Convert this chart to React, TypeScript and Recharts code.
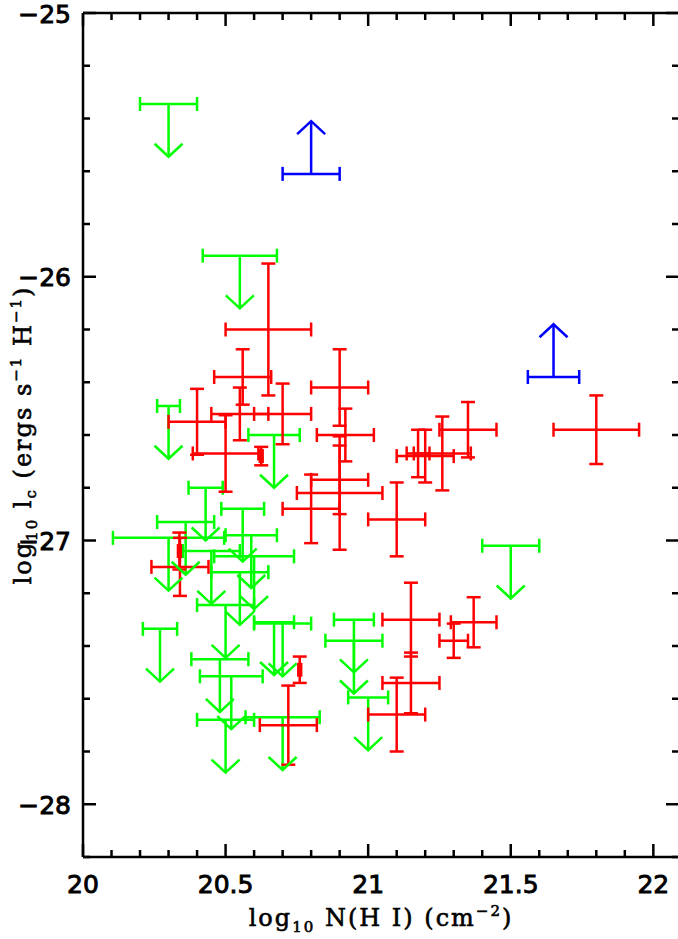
import React from 'react';
import { ScatterChart, Scatter, XAxis, YAxis, ErrorBar } from 'recharts';

// detections: log N(HI), log lc and their half-widths
const redX = [20.65, 20.56, 20.55, 20.70, 20.40, 20.50, 20.625, 20.90, 20.92, 20.90, 20.90, 20.80, 21.10, 21.80, 21.35, 21.26, 21.20, 21.175, 21.15, 21.15, 21.10, 21.37, 21.30, 20.34, 20.76, 20.72, 20.338];
const redY = [-26.20, -26.38, -26.52, -26.52, -26.55, -26.67, -26.68, -26.42, -26.60, -26.77, -26.82, -26.88, -26.92, -26.58, -26.58, -26.67, -26.68, -26.67, -27.30, -27.54, -27.66, -27.31, -27.38, -27.10, -27.49, -27.70, -27.04];
const redXErr = [0.15, 0.10, 0.10, 0.10, 0.10, 0.115, 0.005, 0.10, 0.10, 0.10, 0.15, 0.10, 0.10, 0.15, 0.10, 0.10, 0.10, 0.04, 0.10, 0.10, 0.10, 0.08, 0.05, 0.10, 0.005, 0.10, 0.005];
const redYErr = [0.25, 0.105, 0.10, 0.115, 0.125, 0.145, 0.035, 0.145, 0.10, 0.13, 0.215, 0.13, 0.14, 0.13, 0.105, 0.14, 0.10, 0.09, 0.14, 0.115, 0.14, 0.095, 0.065, 0.11, 0.05, 0.15, 0.07];

// upper limits on lc
const upX = [20.30, 20.55, 20.30, 20.67, 20.43, 20.56, 20.36, 20.30, 20.59, 20.45, 20.60, 20.55, 20.50, 20.67, 20.70, 20.27, 20.48, 20.52, 20.50, 20.70, 20.95, 20.95, 21.00, 21.50];
const upY = [-25.345, -25.92, -26.49, -26.60, -26.80, -26.88, -26.93, -26.99, -26.98, -27.04, -27.06, -27.12, -27.245, -27.31, -27.315, -27.335, -27.45, -27.515, -27.68, -27.67, -27.30, -27.38, -27.595, -27.02];
const upXErr = [0.10, 0.13, 0.04, 0.09, 0.06, 0.075, 0.10, 0.195, 0.09, 0.10, 0.14, 0.10, 0.10, 0.07, 0.10, 0.06, 0.10, 0.11, 0.10, 0.13, 0.07, 0.10, 0.07, 0.10];

// lower limits on lc
const lowX = [20.80, 21.65];
const lowY = [-25.61, -26.38];
const lowXErr = [0.10, 0.09];

// arrow length in dex
const ARROW = 0.2;

const xTicks = [20, 20.1, 20.2, 20.3, 20.4, 20.5, 20.6, 20.7, 20.8, 20.9, 21, 21.1, 21.2, 21.3, 21.4, 21.5, 21.6, 21.7, 21.8, 21.9, 22];
const xMajor = [20, 20.5, 21, 21.5, 22];
const yTicks = [-28.2, -28, -27.8, -27.6, -27.4, -27.2, -27, -26.8, -26.6, -26.4, -26.2, -26, -25.8, -25.6, -25.4, -25.2, -25];
const yMajor = [-28, -27, -26, -25];

const RED = '#ff0000';
const GREEN = '#00ff00';
const BLUE = '#0000ff';
const LW = 2.5;
const MAJOR_LEN = 13;
const MINOR_LEN = 7;

// thin outline on the glyphs gives the heavier plotter lettering
const tickFont = { fontFamily: '"DejaVu Sans", sans-serif', fontSize: 25, fill: '#000', stroke: '#000', strokeWidth: 0.9 };
const titleFont = { fontFamily: '"DejaVu Serif", serif', fontSize: 24, fill: '#000', stroke: '#000', strokeWidth: 0.6, letterSpacing: 2, whiteSpace: 'pre' as const };
const axisStyle = { stroke: '#000', strokeWidth: LW };

const isMajor = (v: number, majors: number[]) => majors.some(m => Math.abs(m - v) < 1e-6);
const fmt = (v: number) => (v < 0 ? '\u2212' + Math.abs(v) : String(v));

const detections = redX.map((x, i) => ({ x, y: redY[i], ex: redXErr[i], ey: redYErr[i] }));
const upper = upX.map((x, i) => ({ x, y: upY[i], ex: upXErr[i], stem: [ARROW, 0] }));
const upperTips = upX.map((x, i) => ({ x, y: upY[i] - ARROW }));
const lower = lowX.map((x, i) => ({ x, y: lowY[i], ex: lowXErr[i], stem: [0, ARROW] }));
const lowerTips = lowX.map((x, i) => ({ x, y: lowY[i] + ARROW }));

const BottomTick = (props: any) => {
  const { x, y, payload } = props;
  const major = isMajor(payload.value, xMajor);
  return (
    <g>
      <line x1={x} y1={y} x2={x} y2={y - (major ? MAJOR_LEN : MINOR_LEN)} stroke="#000" strokeWidth={LW} />
      {major && (
        <text x={x} y={y + 36} textAnchor="middle" style={tickFont}>{fmt(payload.value)}</text>
      )}
    </g>
  );
};

const TopTick = (props: any) => {
  const { x, y, payload } = props;
  const major = isMajor(payload.value, xMajor);
  return <line x1={x} y1={y} x2={x} y2={y + (major ? MAJOR_LEN : MINOR_LEN)} stroke="#000" strokeWidth={LW} />;
};

const LeftTick = (props: any) => {
  const { x, y, payload } = props;
  const major = isMajor(payload.value, yMajor);
  return (
    <g>
      <line x1={x} y1={y} x2={x + (major ? MAJOR_LEN : MINOR_LEN)} y2={y} stroke="#000" strokeWidth={LW} />
      {major && (
        <text x={x - 12} y={y + 9.5} textAnchor="end" style={tickFont}>{fmt(payload.value)}</text>
      )}
    </g>
  );
};

const RightTick = (props: any) => {
  const { x, y, payload } = props;
  const major = isMajor(payload.value, yMajor);
  return <line x1={x} y1={y} x2={x - (major ? MAJOR_LEN : MINOR_LEN)} y2={y} stroke="#000" strokeWidth={LW} />;
};

const XTitle = (props: any) => {
  const { x, y, width } = props.viewBox;
  return (
    <text x={x + width / 2} y={y + 69} textAnchor="middle" style={titleFont}>
      log<tspan fontSize={15} dy={6}>10</tspan>
      <tspan dy={-6}> N(H I) (cm</tspan>
      <tspan fontSize={15} dy={-10}>{'\u22122'}</tspan>
      <tspan dy={10}>)</tspan>
    </text>
  );
};

const YTitle = (props: any) => {
  const { y, height } = props.viewBox;
  const cx = 31;
  const cy = y + height / 2;
  return (
    <text x={cx} y={cy} transform={`rotate(-90 ${cx} ${cy})`} textAnchor="middle" style={titleFont}>
      log<tspan fontSize={15} dy={6}>10</tspan>
      <tspan dy={-6}> l</tspan>
      <tspan fontSize={15} dy={5}>c</tspan>
      <tspan dy={-5}> (ergs s</tspan>
      <tspan fontSize={15} dy={-10}>{'\u22121'}</tspan>
      <tspan dy={10}> H</tspan>
      <tspan fontSize={15} dy={-10}>{'\u22121'}</tspan>
      <tspan dy={10}>)</tspan>
    </text>
  );
};

const Nothing = () => <g />;

const DownHead = (props: any) => {
  const { cx, cy } = props;
  return <path d={`M${cx - 14},${cy - 13} L${cx},${cy} L${cx + 14},${cy - 13}`} fill="none" stroke={GREEN} strokeWidth={LW} />;
};

const UpHead = (props: any) => {
  const { cx, cy } = props;
  return <path d={`M${cx - 14},${cy + 13} L${cx},${cy} L${cx + 14},${cy + 13}`} fill="none" stroke={BLUE} strokeWidth={LW} />;
};

export default function App() {
  return (
    <div style={{ position: 'absolute', left: 0, top: 0, width: 678, height: 939, overflow: 'hidden', background: '#fff' }}>
      <ScatterChart width={680} height={939} margin={{ top: 12, right: 0, bottom: 22, left: 0 }}>
        <XAxis
          xAxisId="bottom"
          type="number"
          dataKey="x"
          domain={[20, 22.09]}
          allowDataOverflow
          ticks={xTicks}
          interval={0}
          height={60}
          tickSize={0}
          tickMargin={0}
          tickLine={false}
          tick={<BottomTick />}
          axisLine={axisStyle}
          label={{ content: XTitle }}
        />
        <XAxis
          xAxisId="top"
          orientation="top"
          type="number"
          dataKey="x"
          domain={[20, 22.09]}
          allowDataOverflow
          ticks={xTicks}
          interval={0}
          height={1}
          tickSize={0}
          tickMargin={0}
          tickLine={false}
          tick={<TopTick />}
          axisLine={axisStyle}
        />
        <YAxis
          yAxisId="left"
          type="number"
          dataKey="y"
          domain={[-28.2, -25]}
          allowDataOverflow
          ticks={yTicks}
          interval={0}
          width={83}
          tickSize={0}
          tickMargin={0}
          tickLine={false}
          tick={<LeftTick />}
          axisLine={axisStyle}
          label={{ content: YTitle }}
        />
        {/* the right frame edge falls just outside the page, only its ticks show */}
        <YAxis
          yAxisId="right"
          orientation="right"
          type="number"
          dataKey="y"
          domain={[-28.2, -25]}
          allowDataOverflow
          ticks={yTicks}
          interval={0}
          width={1}
          tickSize={0}
          tickMargin={0}
          tickLine={false}
          tick={<RightTick />}
          axisLine={false}
        />

        {/* keeps the mirrored top/right axes bound to the same data */}
        <Scatter data={detections} xAxisId="top" yAxisId="right" shape={Nothing} isAnimationActive={false} />

        <Scatter data={upper} xAxisId="bottom" yAxisId="left" shape={Nothing} isAnimationActive={false}>
          <ErrorBar dataKey="ex" direction="x" width={7} stroke={GREEN} strokeWidth={LW} isAnimationActive={false} />
          <ErrorBar dataKey="stem" direction="y" width={0} stroke={GREEN} strokeWidth={LW} isAnimationActive={false} />
        </Scatter>
        <Scatter data={upperTips} xAxisId="bottom" yAxisId="left" shape={DownHead} isAnimationActive={false} />

        <Scatter data={detections} xAxisId="bottom" yAxisId="left" shape={Nothing} isAnimationActive={false}>
          <ErrorBar dataKey="ex" direction="x" width={7} stroke={RED} strokeWidth={LW} isAnimationActive={false} />
          <ErrorBar dataKey="ey" direction="y" width={7} stroke={RED} strokeWidth={LW} isAnimationActive={false} />
        </Scatter>

        <Scatter data={lower} xAxisId="bottom" yAxisId="left" shape={Nothing} isAnimationActive={false}>
          <ErrorBar dataKey="ex" direction="x" width={7} stroke={BLUE} strokeWidth={LW} isAnimationActive={false} />
          <ErrorBar dataKey="stem" direction="y" width={0} stroke={BLUE} strokeWidth={LW} isAnimationActive={false} />
        </Scatter>
        <Scatter data={lowerTips} xAxisId="bottom" yAxisId="left" shape={UpHead} isAnimationActive={false} />
      </ScatterChart>
    </div>
  );
}
